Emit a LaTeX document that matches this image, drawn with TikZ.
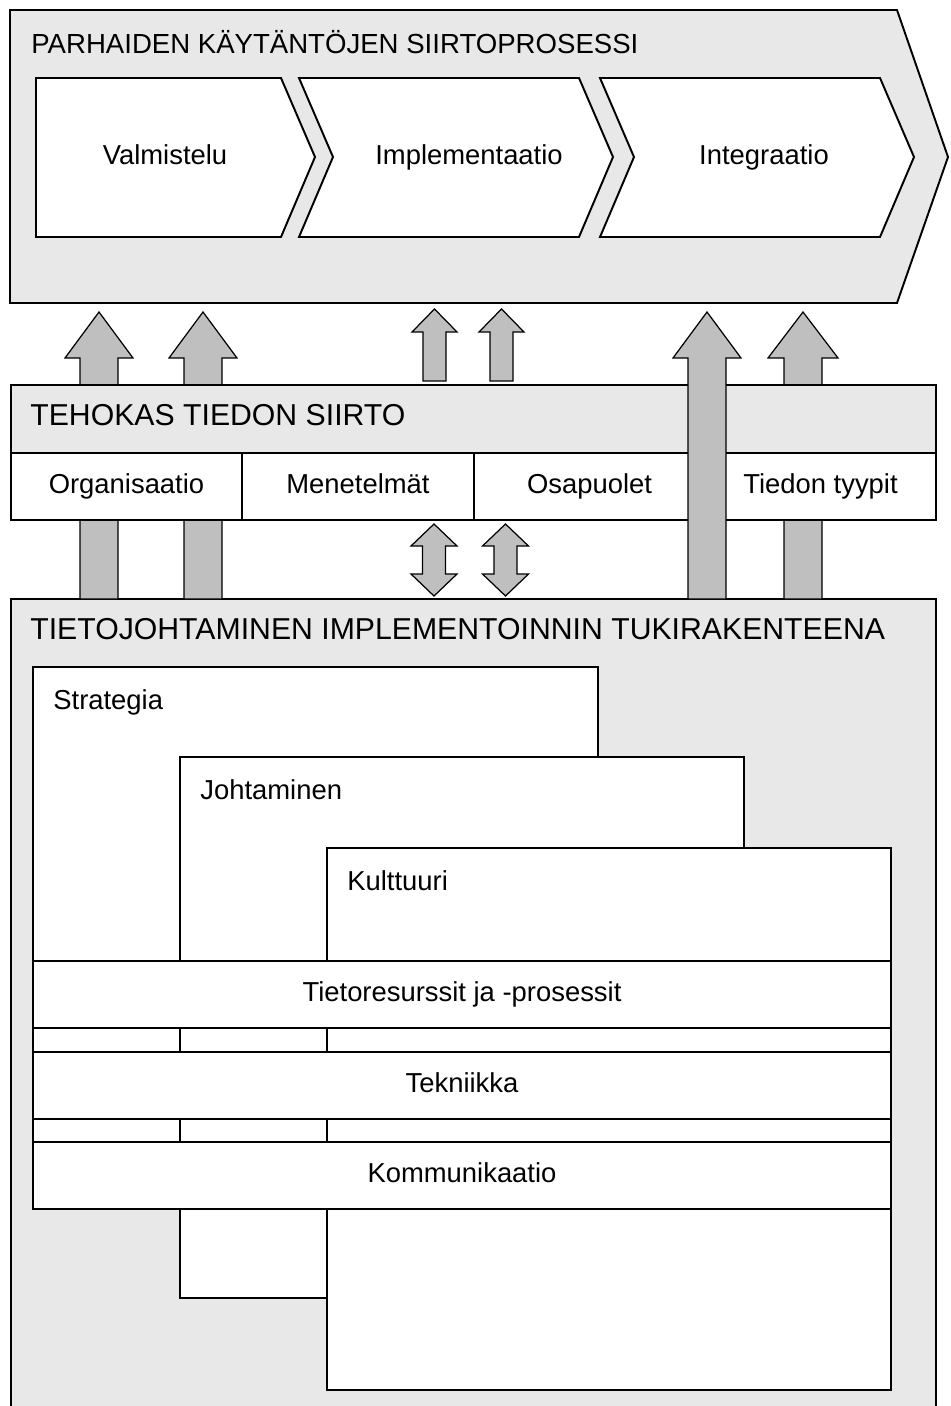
\documentclass[tikz,border=0pt]{standalone}
\usepackage{fontspec}
\setmainfont{Liberation Sans}
\usetikzlibrary{calc}
\usetikzlibrary{positioning}

% fat block arrow pointing up: #1 foot, #2 tip, #3 half shaft, #4 half head, #5 head length
\newcommand{\fatup}[5]{%
  \draw[fatarrow] ($(#1)+(-#3,0)$) -- ($(#2)+(-#3,#5)$) -- ($(#2)+(-#4,#5)$) -- (#2)
    -- ($(#2)+(#4,#5)$) -- ($(#2)+(#3,#5)$) -- ($(#1)+(#3,0)$) -- cycle;}
% fat block arrow with two heads: #1 lower tip, #2 upper tip
\newcommand{\fatboth}[5]{%
  \draw[fatarrow] (#2) -- ($(#2)+(#4,#5)$) -- ($(#2)+(#3,#5)$) -- ($(#1)+(#3,-#5)$)
    -- ($(#1)+(#4,-#5)$) -- (#1) -- ($(#1)+(-#4,-#5)$) -- ($(#1)+(-#3,-#5)$)
    -- ($(#2)+(-#3,#5)$) -- ($(#2)+(-#4,#5)$) -- cycle;}

\begin{document}
\begin{tikzpicture}
  [
    x = 0.02cm, y = -0.02cm,
    txt/.style = {font = \fontsize{15.6}{18}\selectfont, inner sep = 0pt,
                  text height = 0.75em, text depth = 0pt},
    lbl/.style = {font = \fontsize{15.6}{18}\selectfont, inner sep = 0pt, anchor = base west},
    head/.style = {font = \fontsize{17.2}{20}\selectfont, inner sep = 0pt, anchor = base west},
    frame/.style = {draw, line width = 1.1pt},
    hatched/.style = {frame, fill = black!9},
    plain/.style = {frame, fill = white},
    box/.style = {plain, rectangle, inner sep = 0pt, outer sep = 0pt, anchor = north west,
                  txt},
    hatchbox/.style = {box, fill = black!9},
    fatarrow/.style = {draw, line width = 0.7pt, fill = black!25},
  ]
  \useasboundingbox (0,0) rectangle (950,1406);
  \clip (0,0) rectangle (950,1406);

  % siirtoprosessi
  \draw[hatched] (10,10) -- (897,10) -- (948,157) -- (897,303) -- (10,303) -- cycle;
  \node[head, font = \fontsize{15.7}{18}\selectfont] (proc_title) at (31,54)
      {PARHAIDEN KÄYTÄNTÖJEN SIIRTOPROSESSI};
  \draw[plain] (36,78) -- (281,78) -- (315,157) -- (281,237) -- (36,237) -- cycle;
  \draw[plain] (299,78) -- (579,78) -- (613,157) -- (579,237) -- (299,237) -- (333,157) -- cycle;
  \draw[plain] (600,78) -- (880,78) -- (914,157) -- (880,237) -- (600,237) -- (634,157) -- cycle;
  \node[txt] (valm) at (165,157.5) {Valmistelu};
  \node[txt] (impl) at (469,157.5) {Implementaatio};
  \node[txt] (integ) at (764,157.5) {Integraatio};

  % tietojohtaminen
  \node[hatchbox, minimum width = 925*0.02cm, minimum height = 830*0.02cm] (km) at (11,599) {};
  \node[head] (km_title) at (30,639) {TIETOJOHTAMINEN IMPLEMENTOINNIN TUKIRAKENTEENA};
  \node[box, minimum width = 565*0.02cm, minimum height = 533*0.02cm] (strat) at (33,667) {};
  \node[lbl] (strat_lbl) at (53,709) {Strategia};
  \node[box, minimum width = 564*0.02cm, minimum height = 541*0.02cm] (lead) at (180,757) {};
  \node[lbl] (lead_lbl) at (200,799) {Johtaminen};
  \node[box, minimum width = 564*0.02cm, minimum height = 542*0.02cm] (cult) at (327,848) {};
  \node[lbl] (cult_lbl) at (347,890) {Kulttuuri};
  \node[box, minimum width = 858*0.02cm, minimum height = 67*0.02cm] (res) at (33,961)
      {Tietoresurssit ja -prosessit};
  \node[box, minimum width = 858*0.02cm, minimum height = 67*0.02cm] (tech) at (33,1052)
      {Tekniikka};
  \node[box, minimum width = 858*0.02cm, minimum height = 67*0.02cm] (comm) at (33,1142)
      {Kommunikaatio};

  % nuolet prosessiin
  \coordinate (org_tip) at (99,312);
  \coordinate (org_foot) at (99,0 |- km.north);
  \coordinate (org2_tip) at (203,312);
  \coordinate (org2_foot) at (203,0 |- km.north);
  \coordinate (type_tip) at (803,312);
  \coordinate (type_foot) at (803,0 |- km.north);
  \fatup{org_foot}{org_tip}{19}{34}{46}
  \fatup{org2_foot}{org2_tip}{19}{34}{46}
  \fatup{type_foot}{type_tip}{19}{35}{46}

  % tehokas tiedon siirto
  \node[hatchbox, minimum width = 925*0.02cm, minimum height = 68*0.02cm] (transfer) at (11,385) {};
  \node[head] (transfer_title) at (30,425) {TEHOKAS TIEDON SIIRTO};
  \node[box, minimum width = 231*0.02cm, minimum height = 67*0.02cm] (org) at (11,453) {Organisaatio};
  \node[box, minimum width = 232*0.02cm, minimum height = 67*0.02cm] [right = 0pt of org] (meth) {Menetelmät};
  \node[box, minimum width = 231*0.02cm, minimum height = 67*0.02cm] [right = 0pt of meth] (party) {Osapuolet};
  \node[box, minimum width = 231*0.02cm, minimum height = 67*0.02cm] [right = 0pt of party] (types) {Tiedon tyypit};

  \coordinate (kmx_tip) at (707,312);
  \coordinate (kmx_foot) at (707,0 |- km.north);
  \fatup{kmx_foot}{kmx_tip}{19}{34}{46}

  \coordinate (meth_tip) at (434.5,309);
  \coordinate (meth_foot) at ($(434.5,0 |- transfer.north)+(0,-4)$);
  \coordinate (meth2_tip) at (501.5,309);
  \coordinate (meth2_foot) at ($(501.5,0 |- transfer.north)+(0,-4)$);
  \fatup{meth_foot}{meth_tip}{11.5}{22.5}{23}
  \fatup{meth2_foot}{meth2_tip}{11.5}{22.5}{23}

  \coordinate (low_top) at ($(434,0 |- org.south)+(0,4)$);
  \coordinate (low_bot) at ($(434,0 |- km.north)+(0,-3)$);
  \coordinate (low2_top) at ($(505.5,0 |- org.south)+(0,4)$);
  \coordinate (low2_bot) at ($(505.5,0 |- km.north)+(0,-3)$);
  \fatboth{low_bot}{low_top}{11.5}{23}{22}
  \fatboth{low2_bot}{low2_top}{11.5}{23}{22}
\end{tikzpicture}
\end{document}
